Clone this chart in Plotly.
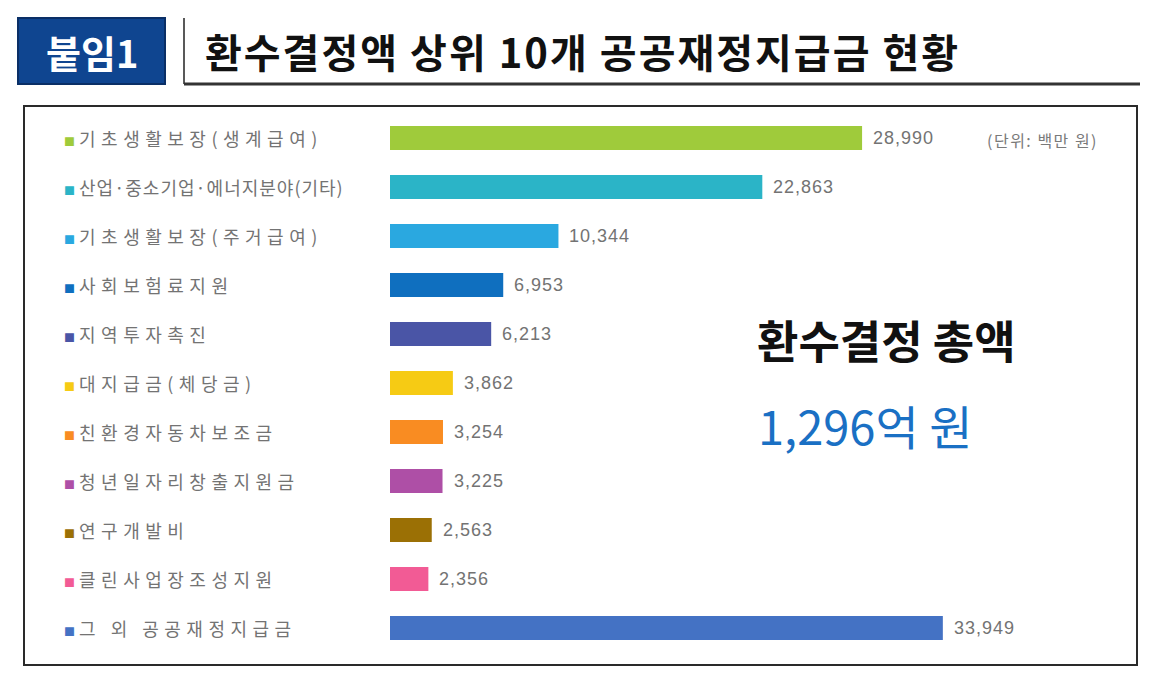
import plotly.graph_objects as go

# data (단위: 백만 원)
categories = [
    "기초생활보장(생계급여)",
    "산업·중소기업·에너지분야(기타)",
    "기초생활보장(주거급여)",
    "사회보험료지원",
    "지역투자촉진",
    "대지급금(체당금)",
    "친환경자동차보조금",
    "청년일자리창출지원금",
    "연구개발비",
    "클린사업장조성지원",
    "그 외 공공재정지급금",
]
amounts = [28990, 22863, 10344, 6953, 6213, 3862, 3254, 3225, 2563, 2356, 33949]
bar_colors = ["#9fcb3b", "#2bb4c7", "#2aa8e0", "#0f6fbf", "#4a55a6", "#f6cb14",
              "#f98c22", "#ae4fa6", "#9b7005", "#f25b95", "#4472c4"]

# page has an 8px body margin, so the figure is a bit smaller than the window
OFF = 8
W, H = 1162 - OFF, 680 - OFF
KR = "Noto Sans CJK KR"


def px(x):
    return (x - OFF) / W


def py(y):
    return 1 - (y - OFF) / H


fig = go.Figure()
fig.add_trace(go.Bar(
    y=categories, x=amounts, orientation="h",
    marker=dict(color=bar_colors, line=dict(width=0)),
    width=0.49, hoverinfo="skip",
))

annotations = []
# category labels with coloured squares
for cat, col in zip(categories, bar_colors):
    spacing = "1px" if len(cat) > 14 else "5.5px"
    annotations.append(dict(
        x=px(62), xref="paper", y=cat, yref="y", xanchor="left", yanchor="middle",
        text=f'<span style="font-size:11px;color:{col}">■</span> '
             f'<span style="letter-spacing:{spacing}">{cat}</span>',
        showarrow=False, font=dict(family=KR, size=18, color="#737373"),
    ))
# value labels
for cat, v in zip(categories, amounts):
    annotations.append(dict(
        x=v, y=cat, xref="x", yref="y", xanchor="left", yanchor="middle", xshift=9,
        text=f'<span style="letter-spacing:1px">{v:,}</span>', showarrow=False,
        font=dict(family="Liberation Sans", size=18, color="#737373"),
    ))

annotations += [
    dict(x=px(92), y=py(51), xref="paper", yref="paper", xanchor="center", yanchor="middle",
         text="<b>붙임1</b>", showarrow=False,
         font=dict(family=KR, size=38, color="white")),
    dict(x=px(203), y=py(51), xref="paper", yref="paper", xanchor="left", yanchor="middle",
         text='<b><span style="letter-spacing:2px">환수결정액 상위 10개 공공재정지급금 현황</span></b>',
         showarrow=False, font=dict(family=KR, size=40, color="#111111")),
    dict(x=px(1100), y=py(140), xref="paper", yref="paper", xanchor="right", yanchor="middle",
         text='<span style="letter-spacing:1.5px">(단위: 백만 원)</span>', showarrow=False,
         font=dict(family=KR, size=16, color="#7a7a7a")),
    dict(x=px(886), y=py(339), xref="paper", yref="paper", xanchor="center", yanchor="middle",
         text="<b>환수결정 총액</b>", showarrow=False,
         font=dict(family=KR, size=45, color="#111111")),
    dict(x=px(865), y=py(424), xref="paper", yref="paper", xanchor="center", yanchor="middle",
         text="1,296억 원", showarrow=False,
         font=dict(family=KR, size=47, color="#1a70c4")),
]

shapes = [
    # header box
    dict(type="rect", xref="paper", yref="paper", x0=px(18), x1=px(165), y0=py(84), y1=py(18),
         fillcolor="#0f4590", line=dict(color="#0a2f66", width=2)),
    # header divider lines
    dict(type="line", xref="paper", yref="paper", x0=px(184), x1=px(184), y0=py(84), y1=py(18),
         line=dict(color="#222222", width=1.5)),
    dict(type="line", xref="paper", yref="paper", x0=px(184), x1=px(1140), y0=py(84), y1=py(84),
         line=dict(color="#333333", width=3)),
    # chart frame
    dict(type="rect", xref="paper", yref="paper", x0=px(24), x1=px(1137), y0=py(665), y1=py(106),
         line=dict(color="#2a2a2a", width=2)),
]

fig.update_layout(
    width=W, height=H,
    margin=dict(l=0, r=0, t=0, b=0),
    paper_bgcolor="white", plot_bgcolor="white",
    showlegend=False,
    xaxis=dict(domain=[px(390), px(1100)], range=[0, 43600], visible=False, fixedrange=True),
    yaxis=dict(domain=[py(652.5), py(113.5)], autorange="reversed", visible=False,
               fixedrange=True),
    annotations=annotations,
    shapes=shapes,
)

fig.write_html("out.html")
